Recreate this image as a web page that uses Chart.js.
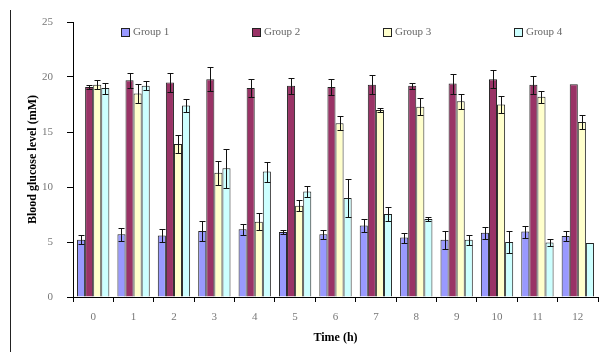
<!DOCTYPE html>
<html>
<head>
<meta charset="utf-8">
<script src="https://cdn.jsdelivr.net/npm/chart.js@4"></script>
<style>
  html, body { margin: 0; padding: 0; background: #fff; }
  #wrap { position: relative; width: 604px; height: 352px; }
  #edge { position: absolute; left: 10px; top: 10px; width: 1px; height: 342px; background: #222; }
</style>
</head>
<body>
<div id="wrap">
  <div id="edge"></div>
  <canvas id="glucose-chart" width="604" height="352"></canvas>
</div>
<script>
const hours = ['0', '1', '2', '3', '4', '5', '6', '7', '8', '9', '10', '11', '12']
const seriesNames = ['Group 1', 'Group 2', 'Group 3', 'Group 4']

const group1 = [5.2, 5.7, 5.6, 6.0, 6.15, 5.9, 5.7, 6.5, 5.4, 5.2, 5.85, 5.95, 5.55]
const group1Err = [0.4, 0.6, 0.6, 0.9, 0.5, 0.2, 0.4, 0.6, 0.45, 0.8, 0.55, 0.55, 0.45]
const group2 = [19.1, 19.7, 19.5, 19.8, 19.0, 19.2, 19.1, 19.3, 19.2, 19.4, 19.8, 19.3, 19.35]
const group2Err = [0.2, 0.7, 0.9, 1.1, 0.85, 0.75, 0.7, 0.85, 0.3, 0.9, 0.8, 0.8, 0]
const group3 = [19.3, 18.5, 13.9, 11.3, 6.85, 8.3, 15.8, 17.0, 17.3, 17.8, 17.5, 18.2, 15.9]
const group3Err = [0.4, 0.85, 0.8, 1.1, 0.75, 0.5, 0.65, 0.15, 0.75, 0.7, 0.8, 0.55, 0.6]
const group4 = [19.0, 19.2, 17.4, 11.7, 11.4, 9.6, 9.0, 7.55, 7.1, 5.2, 5.0, 4.95, 4.9]
const group4Err = [0.5, 0.4, 0.6, 1.8, 0.9, 0.5, 1.7, 0.6, 0.15, 0.45, 1.0, 0.3, 0]

const yTicks = [0, 5, 10, 15, 20, 25]

const colors = ['#9999ff', '#993366', '#ffffcc', '#ccffff']
const serif = "'Liberation Serif', 'DejaVu Serif', serif"

// error bars drawn from the value +/- err through the y scale
const errorBars = {
  id: 'errorBars',
  afterDatasetsDraw(chart) {
    const ctx = chart.ctx
    const y = chart.scales.y
    ctx.save()
    ctx.strokeStyle = '#111'
    ctx.lineWidth = 1
    chart.data.datasets.forEach((ds, di) => {
      const meta = chart.getDatasetMeta(di)
      meta.data.forEach((bar, i) => {
        const e = ds.errors[i]
        if (!e) return
        const v = ds.data[i]
        const top = Math.round(y.getPixelForValue(v + e)) + 0.5
        const bot = Math.round(y.getPixelForValue(v - e)) + 0.5
        const x = Math.round(bar.x) + 0.5
        ctx.beginPath()
        ctx.moveTo(x, top); ctx.lineTo(x, bot)
        ctx.moveTo(x - 3, top); ctx.lineTo(x + 3, top)
        ctx.moveTo(x - 3, bot); ctx.lineTo(x + 3, bot)
        ctx.stroke()
      })
    })
    ctx.restore()
  }
}

// legend row inside the plot, spread like the original
const plotLegend = {
  id: 'plotLegend',
  afterDraw(chart) {
    const ctx = chart.ctx
    const area = chart.chartArea
    ctx.save()
    ctx.font = '11px ' + serif
    ctx.textBaseline = 'middle'
    chart.data.datasets.forEach((ds, i) => {
      const bx = area.left + 48 + i * 131
      const by = 28
      ctx.fillStyle = ds.backgroundColor
      ctx.fillRect(bx, by, 8, 8)
      ctx.strokeStyle = '#222'
      ctx.strokeRect(bx + 0.5, by + 0.5, 8, 8)
      ctx.fillStyle = '#666'
      ctx.fillText(ds.label, bx + 12, by + 4.5)
    })
    ctx.restore()
  }
}

const makeSet = (i, data, errors) => ({
  label: seriesNames[i],
  data: data,
  errors: errors,
  backgroundColor: colors[i],
  borderColor: '#222',
  borderWidth: 1,
  categoryPercentage: 0.8,
  barPercentage: 1.0
})

const glucoseChart = () => {
  const options = {
    type: 'bar',
    data: {
      labels: hours,
      datasets: [
        makeSet(0, group1, group1Err),
        makeSet(1, group2, group2Err),
        makeSet(2, group3, group3Err),
        makeSet(3, group4, group4Err)
      ]
    },
    options: {
      responsive: false,
      animation: false,
      layout: { padding: { left: 10, right: 6, top: 22, bottom: 0 } },
      plugins: {
        legend: { display: false },
        tooltip: { enabled: false }
      },
      scales: {
        x: {
          grid: { display: true, drawOnChartArea: false, tickLength: 5, color: '#000', offset: true },
          border: { display: true, color: '#000' },
          ticks: { color: '#777', font: { family: serif, size: 11 }, padding: 9 },
          title: {
            display: true, text: 'Time (h)', color: '#000',
            font: { family: serif, size: 12, weight: 'bold' },
            padding: { top: 0, bottom: 7 }
          },
          afterFit: (s) => { s.height = 55 }
        },
        y: {
          min: 0,
          max: 25,
          afterBuildTicks: (s) => { s.ticks = yTicks.map(v => ({ value: v })) },
          grid: { display: true, drawOnChartArea: false, tickLength: 6, color: '#000' },
          border: { display: true, color: '#000' },
          ticks: { color: '#777', font: { family: serif, size: 11 }, padding: 14 },
          title: {
            display: true, text: 'Blood glucose level (mM)', color: '#000',
            font: { family: serif, size: 12, weight: 'bold' },
            padding: { top: 16, bottom: 0 }
          },
          afterFit: (s) => { s.width = 63 }
        }
      }
    },
    plugins: [errorBars, plotLegend]
  }
  const canvas = document.getElementById('glucose-chart').getContext('2d')
  new Chart(canvas, options)
}

window.onload = () => {
  glucoseChart()
}
</script>
</body>
</html>
